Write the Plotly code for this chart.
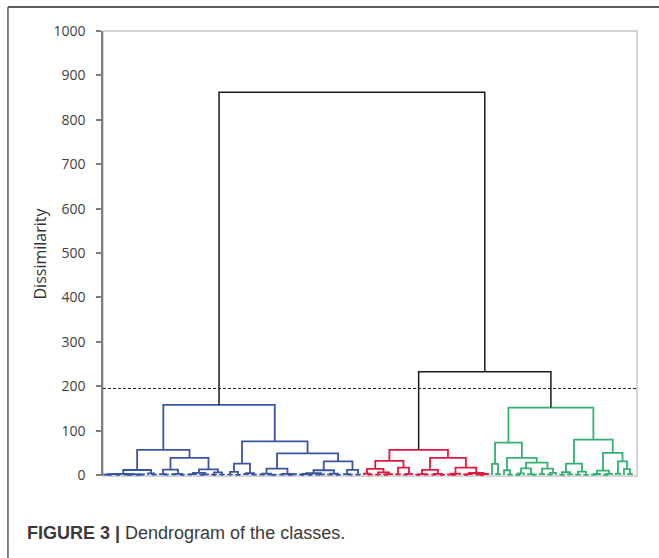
import plotly.graph_objects as go

# Merge height between each pair of neighbouring leaves, in drawing order.
# The dendrogram is the tree obtained by repeatedly splitting a run of
# leaves at its largest gap.
blue_gaps = [
    1.2, 0.6, 2.0, 0.8, 2.6, 1.0, 0.5, 1.8, 0.7, 1.4,
    11.5, 3.8, 1.1, 57, 2.2, 0.9, 12.5, 1.5, 3.0, 0.8,
    39, 1.0, 2.4, 5.0, 0.7, 1.6, 13.0, 0.8, 6.0, 1.2,
    158, 1.0, 7.5, 0.6, 26, 2.0, 4.5, 1.0, 76, 0.9,
    3.5, 1.3, 0.6, 14.5, 1.1, 2.8, 0.7, 1.9, 49, 0.8,
    2.5, 0.5, 4.2, 1.0, 1.7, 11, 1.3, 3.2, 0.6, 31,
    2.0, 0.9, 12, 1.2,
]
red_gaps = [
    3.5, 1.0, 14, 1.1, 6.0, 0.8, 2.2, 32, 1.5, 17,
    0.9, 2.6, 57, 0.6, 2.4, 1.3, 12, 1.0, 3.0, 0.7,
    39, 1.4, 0.5, 3.3, 17, 0.8, 2.0, 4.8, 1.1, 0.6,
    2.5,
]
green_gaps = [
    25.5, 2.0, 73, 11, 1.2, 39, 0.8, 4.0, 15, 2.2,
    0.6, 28, 3.0, 14.5, 1.0, 5.0, 152, 0.7, 6.5, 1.8,
    26, 1.2, 8.0, 0.5, 80, 1.0, 2.5, 10, 0.8, 3.0,
    50, 3.5, 31, 13.5, 2.0,
]
blue_red_merge = 862
red_green_merge = 233
cut_level = 195
y_ticks = list(range(0, 1001, 100))

cluster_colors = ["#3A54A4", "#E2183F", "#34B073"]
link_color = "#1b1b1b"

gaps = blue_gaps + [blue_red_merge] + red_gaps + [red_green_merge] + green_gaps
n_leaves = len(gaps) + 1

paths = {}
next_color = [0]


def add_link(color, xs, ys):
    px, py = paths.setdefault(color, ([], []))
    px.extend(xs + [None])
    py.extend(ys + [None])


def build(lo, hi, color=None):
    """Lay out leaves lo..hi; return the (x, height) of their node."""
    if lo == hi:
        return float(lo), 0.0
    k = max(range(lo, hi), key=lambda j: gaps[j])
    h = gaps[k]
    if color is None and h <= cut_level:
        color = cluster_colors[next_color[0]]
        next_color[0] += 1
    xl, hl = build(lo, k, color)
    xr, hr = build(k + 1, hi, color)
    add_link(color or link_color, [xl, xl, xr, xr], [hl, h, h, hr])
    return (xl + xr) / 2, h


build(0, n_leaves - 1)

fig = go.Figure()
for color, (xs, ys) in paths.items():
    fig.add_trace(go.Scatter(
        x=xs, y=ys, mode="lines",
        line=dict(color=color, width=1.5 if color == link_color else 1.8),
        hoverinfo="skip", showlegend=False,
    ))

# dashed cut line across the plot
fig.add_shape(type="line", xref="paper", yref="y", x0=0, x1=1,
              y0=cut_level, y1=cut_level,
              line=dict(color="#222222", width=1, dash="3px,2px"))
# light plot-area frame
fig.add_shape(type="rect", xref="paper", yref="paper", x0=0, x1=1, y0=0, y1=1,
              line=dict(color="#d4d4d4", width=2), layer="below")
# outer figure frame (top and left edges)
fig.add_shape(type="line", xref="paper", yref="paper",
              x0=-0.178, x1=1.06, y0=1.054, y1=1.054,
              line=dict(color="#5a5a5a", width=2))
fig.add_shape(type="line", xref="paper", yref="paper",
              x0=-0.178, x1=-0.178, y0=1.054, y1=-0.2,
              line=dict(color="#5a5a5a", width=1.5))

fig.add_annotation(
    text="Dissimilarity", xref="paper", yref="paper", x=-0.118, y=0.5,
    textangle=-90, showarrow=False, xanchor="center", yanchor="middle",
    font=dict(family="Open Sans", size=16, color="#333333"),
)
fig.add_annotation(
    text="<b>FIGURE 3 |</b> Dendrogram of the classes.",
    xref="paper", yref="paper", x=-0.146, y=-0.128,
    xanchor="left", yanchor="middle", showarrow=False,
    font=dict(family="Liberation Sans", size=18, color="#3a3a3a"),
)

fig.update_layout(
    width=659, height=558,
    margin=dict(l=103, r=22, t=31, b=82),
    paper_bgcolor="white", plot_bgcolor="white",
    xaxis=dict(range=[-0.25, n_leaves + 0.25], visible=False),
    yaxis=dict(
        range=[-2, 1000], tickvals=y_ticks, ticks="outside", ticklen=5,
        tickcolor="#7f7f7f", tickwidth=1.5,
        showline=True, linecolor="#7f7f7f", linewidth=1.5,
        showgrid=False, zeroline=False, ticklabelstandoff=8,
        tickfont=dict(family="Open Sans", size=14, color="#404040"),
    ),
)

fig.write_html("out.html")
